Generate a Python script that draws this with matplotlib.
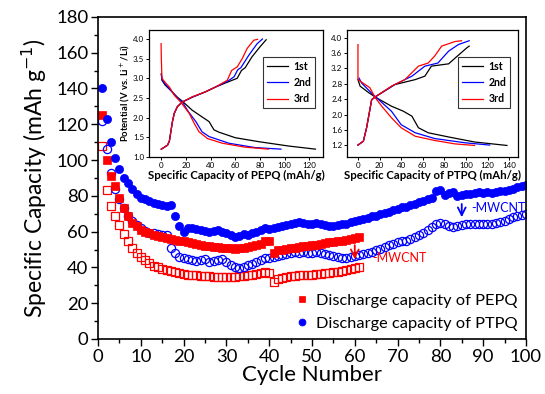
import matplotlib
matplotlib.use("Agg")
import matplotlib.pyplot as plt
import numpy as np

plt.rcParams['font.family'] = ['Lato', 'DejaVu Sans']

# ---------------- main data ----------------
cycles_ptpq = list(range(1, 101))
cycles_pepq = list(range(1, 62))

ptpq_mwcnt = [140, 123, 110, 101, 95, 90, 87, 84, 81, 79, 78, 77, 76, 75.5, 75, 74.5, 75, 69, 63, 60,
              62, 62, 61.5, 61, 60.5, 60, 60.5, 61, 60, 59, 58, 57, 57.5, 58.5, 58, 59.5, 60, 61, 62, 61.5,
              62, 62.5, 63, 63.5, 64.5, 65, 65.5, 65, 64, 64.5, 65, 64, 63.5, 63, 63, 63.5, 64, 64.5, 65.5, 66,
              66.5, 67, 67.5, 68.5, 69, 70, 70.5, 71, 72, 72.5, 73.5, 74, 75, 75.5, 76.5, 77, 78.5, 79, 82.5, 83,
              80.5, 81.5, 82, 80, 80.5, 81, 81, 81.5, 82, 81.5, 82, 81.5, 82, 82.5, 82.5, 83, 84, 85, 85.5, 86]
ptpq_plain = [122, 106, 93, 84, 78, 73, 69, 66, 63.5, 62, 60.5, 59.5, 59, 58.5, 58, 58, 51, 48, 46, 45,
              44.5, 44, 43.5, 44, 44.5, 43, 43.5, 44, 44.5, 43, 41.5, 40, 39.5, 40.5, 41.5, 42, 43, 44, 45, 45.5,
              46, 46.5, 47, 47.5, 48, 48.5, 48, 48.5, 48, 48, 48.5, 48, 47.5, 47, 46.5, 46, 45.5, 45.5, 46, 46.5,
              47, 47.5, 48, 48.5, 49.5, 50.5, 51.5, 52.5, 53, 54, 54.5, 55, 56, 57, 58, 59.5, 61, 62.5, 64, 65,
              64.5, 63, 62.5, 63, 63.5, 64, 64.5, 64.5, 64.5, 64.5, 64.5, 64.5, 65, 65.5, 66, 67, 68, 69, 69.5, 70]
pepq_mwcnt = [125, 100, 91, 85.5, 79, 73, 68.5, 65, 63, 61, 60, 59, 58, 57.5, 57, 56.5, 56, 55.5, 55, 54.5,
              54, 53.5, 53, 52.5, 52, 52, 51.5, 51.5, 51, 51, 51, 50.5, 51, 51, 51.5, 52, 52.5, 53, 54.5, 55,
              48, 49.5, 50, 50.5, 51, 51, 51.5, 52, 52, 52.5, 52.5, 53, 53.5, 54, 54, 54.5, 55, 55.5, 56, 56.5, 57]
pepq_plain = [108, 83, 74.5, 69, 63.5, 58.5, 54.5, 51, 48, 46, 44, 42.5, 41, 40, 39, 38.5, 38, 37.5, 37, 36.5,
              36, 35.5, 35.5, 35, 35, 35, 34.5, 34.5, 34.5, 34.5, 34.5, 34.5, 35, 35, 35.5, 36, 36.5, 37, 37.5, 37,
              32, 33.5, 34, 34.5, 35, 35, 35.5, 35.5, 36, 36, 36.5, 36.5, 37, 37, 37.5, 37.5, 38, 38.5, 39, 39.5, 40]

legend_labels = ["Discharge capacity of PEPQ", "Discharge capacity of PTPQ"]

# ---------------- inset data (capacity mAh/g, potential V) ----------------
pepq_d1_cap = [0, 0.5, 3, 8, 13, 17, 25, 33, 38.7, 42.7, 46.8, 60, 79, 103, 125]
pepq_d1_v = [3.12, 2.95, 2.83, 2.68, 2.52, 2.42, 2.19, 2.02, 1.9, 1.69, 1.63, 1.49, 1.39, 1.28, 1.2]
pepq_d2_cap = [0, 0.5, 3, 8, 13, 17, 22, 28, 33, 38.7, 54.8, 76, 97]
pepq_d2_v = [3.1, 2.97, 2.86, 2.68, 2.5, 2.4, 2.15, 1.9, 1.64, 1.52, 1.35, 1.24, 1.2]
pepq_d3_cap = [-0.2, 0, 0.5, 3, 6.5, 10.5, 15.9, 22.6, 26.6, 30.6, 37.4, 49.5, 68, 87]
pepq_d3_v = [3.88, 3.5, 3.0, 2.9, 2.78, 2.57, 2.39, 2.11, 1.86, 1.64, 1.47, 1.35, 1.25, 1.2]
pepq_c1_cap = [0, 5, 6.5, 9, 10.5, 13, 17, 25, 36, 44, 55, 61.5, 65, 68, 73.6, 80, 85]
pepq_c1_v = [1.2, 1.3, 1.4, 1.9, 2.11, 2.28, 2.4, 2.52, 2.66, 2.78, 2.92, 3.0, 3.2, 3.27, 3.55, 3.8, 3.98]
pepq_c2_cap = [0, 5, 6.5, 9, 10.5, 13, 17, 25, 36, 44, 54, 59, 62, 64.5, 71, 77.7, 82]
pepq_c2_v = [1.2, 1.3, 1.4, 1.9, 2.11, 2.28, 2.4, 2.52, 2.66, 2.78, 2.93, 3.04, 3.22, 3.27, 3.59, 3.88, 4.0]
pepq_c3_cap = [0, 5, 6.5, 9, 10.5, 13, 17, 25, 36, 44, 53.5, 57, 61.5, 65.6, 69.6, 75, 78]
pepq_c3_v = [1.2, 1.3, 1.4, 1.9, 2.11, 2.28, 2.39, 2.53, 2.66, 2.78, 2.95, 3.2, 3.29, 3.5, 3.76, 3.97, 3.99]

ptpq_d1_cap = [0, 2, 10, 17, 31, 42, 50, 56, 65, 84, 108, 138]
ptpq_d1_v = [2.91, 2.74, 2.57, 2.44, 2.22, 2.09, 1.96, 1.66, 1.53, 1.42, 1.29, 1.2]
ptpq_d2_cap = [1, 3.4, 14, 31, 40, 53, 71, 99, 122]
ptpq_d2_v = [2.95, 2.82, 2.52, 2.09, 1.74, 1.53, 1.38, 1.27, 1.21]
ptpq_d3_cap = [0, 0, 2, 11, 16, 22, 31, 40, 53, 71, 90, 108]
ptpq_d3_v = [3.82, 2.91, 2.87, 2.7, 2.44, 2.22, 1.92, 1.66, 1.44, 1.33, 1.24, 1.2]
ptpq_c1_cap = [0, 5, 8, 12.7, 17, 34, 53, 62, 68, 84, 90, 100.6, 103]
ptpq_c1_v = [1.21, 1.31, 1.66, 2.39, 2.48, 2.78, 2.91, 3.0, 3.26, 3.32, 3.47, 3.73, 3.78]
ptpq_c2_cap = [0, 5, 8, 12.7, 17, 34, 50, 62, 74, 84, 93, 103]
ptpq_c2_v = [1.21, 1.31, 1.66, 2.39, 2.48, 2.78, 3.0, 3.26, 3.34, 3.65, 3.82, 3.92]
ptpq_c3_cap = [0, 5, 8, 12.7, 17, 31, 43.5, 56, 65, 71, 77.5, 90, 96]
ptpq_c3_v = [1.21, 1.31, 1.66, 2.39, 2.48, 2.74, 2.91, 3.26, 3.34, 3.52, 3.78, 3.9, 3.92]

cycle_labels = ["1st", "2nd", "3rd"]
cycle_colors = ["black", "blue", "red"]

# ---------------- figure ----------------
fig = plt.figure(figsize=(5.45, 3.94), dpi=100)
ax = fig.add_axes([0.18, 0.1396, 0.785, 0.8175])

RED = '#ff0000'
BLUE = '#0000ff'
ms = 5.5
ax.plot(cycles_pepq, pepq_plain, ls='none', marker='s', ms=ms, mfc='none', mec=RED, mew=0.9)
ax.plot(cycles_ptpq, ptpq_plain, ls='none', marker='o', ms=ms + 0.4, mfc='none', mec=BLUE, mew=0.9)
h1, = ax.plot(cycles_pepq, pepq_mwcnt, ls='none', marker='s', ms=ms, mfc=RED, mec=RED, mew=0.5)
h2, = ax.plot(cycles_ptpq, ptpq_mwcnt, ls='none', marker='o', ms=ms + 0.4, mfc=BLUE, mec=BLUE, mew=0.5)

ax.set_xlim(0, 100)
ax.set_ylim(0, 180)
ax.set_xticks(range(0, 101, 10))
ax.set_xticks(range(5, 100, 10), minor=True)
ax.set_yticks(range(0, 181, 20))
ax.set_yticks(range(10, 180, 20), minor=True)
ax.tick_params(which='major', direction='out', length=5, width=1, labelsize=13.3, pad=2)
ax.tick_params(which='minor', direction='out', length=3, width=1)
for s in ax.spines.values():
    s.set_linewidth(1.2)
ax.set_xlabel("Cycle Number", fontsize=16, labelpad=0)
ax.set_ylabel("Specific Capacity (mAh g$^{-1}$)", fontsize=16.5, labelpad=5)

ax.legend([h1, h2], legend_labels, loc='lower right', bbox_to_anchor=(1.0, 0.0),
          frameon=False, fontsize=11.8, handletextpad=0.25, borderaxespad=0.1,
          labelspacing=0.5, markerscale=0.85, handlelength=1.2)

# annotations
ax.annotate("", xy=(60, 43), xytext=(60, 54),
            arrowprops=dict(arrowstyle='->', color=RED, lw=1.3, mutation_scale=14))
ax.text(64, 45.5, "-MWCNT", color=RED, fontsize=9, va='center', ha='left')
ax.annotate("", xy=(85, 66.5), xytext=(85, 77),
            arrowprops=dict(arrowstyle='->', color=BLUE, lw=1.3, mutation_scale=14))
ax.text(87.3, 73, "-MWCNT", color=BLUE, fontsize=9, va='center', ha='left')

# ---------------- insets ----------------
def inset(rect, curves, xlim, xticks, ylim, yticks, xlabel, ylabel=None, leg_x=1.0):
    ia = fig.add_axes(rect)
    for (dc, dv, cc, cv), lab, col in zip(curves, cycle_labels, cycle_colors):
        ia.plot(dc, dv, color=col, lw=0.9, label=lab)
        ia.plot(cc, cv, color=col, lw=0.9)
    ia.set_xlim(*xlim)
    ia.set_ylim(*ylim)
    ia.set_xticks(xticks)
    ia.set_yticks(yticks)
    ia.set_yticklabels([f"{t:.1f}" for t in yticks])
    ia.tick_params(labelsize=5.8, length=2, width=0.7, pad=1.5, direction='out')
    ia.set_xlabel(xlabel, fontsize=8.2, fontweight='bold', labelpad=1)
    if ylabel:
        ia.set_ylabel(ylabel, fontsize=6.8, fontweight='bold', labelpad=1)
    for s in ia.spines.values():
        s.set_linewidth(0.9)
    leg = ia.legend(loc='center right', bbox_to_anchor=(leg_x, 0.585), fontsize=7.6,
                    frameon=True, fancybox=False, edgecolor='black', handlelength=2.0,
                    handletextpad=0.5, borderpad=0.35, labelspacing=0.5, borderaxespad=0)
    leg.get_frame().set_linewidth(0.8)
    for t in leg.get_texts():
        t.set_fontweight('bold')
    return ia

inset([0.2734, 0.6015, 0.319, 0.3225],
      [(pepq_d1_cap, pepq_d1_v, pepq_c1_cap, pepq_c1_v),
       (pepq_d2_cap, pepq_d2_v, pepq_c2_cap, pepq_c2_v),
       (pepq_d3_cap, pepq_d3_v, pepq_c3_cap, pepq_c3_v)],
      (-10, 131), list(range(0, 121, 20)), (1.0, 4.23), [1.0, 1.5, 2.0, 2.5, 3.0, 3.5, 4.0],
      "Specific Capacity of PEPQ (mAh/g)", "Potential (V vs. Li$^+$/Li)", leg_x=0.955)
inset([0.637, 0.6015, 0.313, 0.3225],
      [(ptpq_d1_cap, ptpq_d1_v, ptpq_c1_cap, ptpq_c1_v),
       (ptpq_d2_cap, ptpq_d2_v, ptpq_c2_cap, ptpq_c2_v),
       (ptpq_d3_cap, ptpq_d3_v, ptpq_c3_cap, ptpq_c3_v)],
      (-10, 148), list(range(0, 141, 20)), (0.9, 4.2), [1.2, 1.6, 2.0, 2.4, 2.8, 3.2, 3.6, 4.0],
      "Specific Capacity of PTPQ (mAh/g)", leg_x=0.955)

fig.savefig("out.png", dpi=100)
